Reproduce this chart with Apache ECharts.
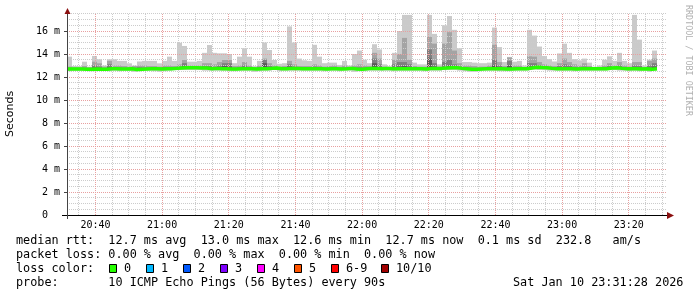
<!DOCTYPE html>
<html><head><meta charset="utf-8">
<script src="https://cdn.jsdelivr.net/npm/echarts@6/dist/echarts.min.js"></script>
<style>html,body{margin:0;padding:0;background:#fff}#c{width:697px;height:297px}</style>
</head><body><div id="c"></div>
<script>
// time in minutes since midnight
const startMin = 20*60 + 31 + 28/60;   // 20:31:28
const endMin = startMin + 180;          // 23:31:28
const stepMin = 1.5;                    // 90 s step
const yMax = 17.5;

// smoke tops (ms) per 90 s column
const pingMax = [13.77,12.96,12.95,13.33,12.9,13.83,13.54,13.0,13.54,13.54,13.4,13.4,13.19,13.0,13.35,13.4,13.4,13.4,13.19,13.4,
13.77,13.4,14.98,14.7,13.33,13.33,13.4,14.1,14.78,14.1,14.06,14.06,14.0,13.2,13.77,14.5,13.77,12.95,13.4,15.0,
14.35,13.48,13.15,13.2,16.4,15.0,13.6,13.45,13.4,14.8,13.77,13.2,13.25,13.25,13.05,13.4,13.0,14.0,14.3,13.5,
13.2,14.85,14.4,13.1,12.95,14.1,16.0,17.4,17.4,13.25,13.1,13.1,17.4,15.75,13.1,16.5,17.3,16.1,14.5,13.3,
13.3,13.25,13.2,13.2,13.25,16.3,14.6,13.3,13.75,13.33,13.4,13.0,16.1,15.6,14.65,13.83,13.55,13.35,14.05,14.9,
14.1,13.55,13.45,13.6,13.25,12.9,13.0,13.5,13.8,13.4,14.1,13.4,13.2,17.4,15.25,13.0,13.5,14.3];
const ping9 = [12.9,12.85,12.85,12.95,12.85,13.33,13.19,12.9,13.4,13.0,13.0,12.95,12.9,12.95,13.0,13.0,12.95,12.95,12.9,13.0,
13.0,12.95,13.1,13.48,13.0,13.0,13.0,13.2,13.2,13.1,13.3,13.48,13.48,12.95,13.0,13.3,13.0,12.85,13.0,13.6,
13.2,13.0,12.9,12.95,13.4,13.1,12.95,12.95,12.95,13.1,13.0,12.9,12.95,13.0,12.9,13.0,12.9,13.0,13.1,13.0,
12.95,14.1,13.6,12.9,12.85,13.5,14.0,15.4,13.5,12.95,12.9,12.9,15.5,14.9,12.9,14.9,15.9,14.3,13.2,13.0,
13.0,12.95,12.9,12.9,13.0,14.8,13.3,12.95,13.7,13.0,13.0,12.85,13.8,13.77,13.3,13.1,13.0,12.95,13.2,13.6,
13.3,13.1,13.0,13.2,12.95,12.85,12.85,13.0,13.2,13.0,13.3,13.0,12.9,13.3,13.3,12.85,13.4,13.6];
const ping8 = [12.8,12.78,12.78,12.8,12.78,13.0,12.9,12.78,13.1,12.85,12.82,12.8,12.8,12.8,12.85,12.82,12.8,12.8,12.8,12.85,
12.85,12.82,12.9,13.2,12.88,12.88,12.85,12.95,12.95,12.88,13.0,13.2,13.2,12.8,12.85,13.0,12.85,12.78,12.85,13.48,
12.95,12.85,12.8,12.8,13.1,12.9,12.8,12.8,12.8,12.9,12.85,12.78,12.8,12.82,12.78,12.82,12.82,12.8,12.85,12.82,
12.85,13.6,13.1,12.82,12.78,13.1,13.3,13.3,13.1,12.8,12.8,12.78,14.4,13.2,12.82,13.3,13.5,13.1,12.9,12.8,
12.78,12.78,12.78,12.8,12.82,13.5,13.0,12.8,13.4,12.82,12.82,12.8,13.2,13.2,13.0,12.9,12.85,12.8,12.95,13.1,
13.0,12.85,12.82,12.9,12.8,12.8,12.8,12.85,12.95,12.85,13.0,12.82,12.8,13.0,12.95,12.8,13.0,13.2];
const ping7 = [12.7,12.7,12.7,12.68,12.68,12.8,12.75,12.68,12.85,12.72,12.7,12.7,12.72,12.66,12.68,12.7,12.72,12.72,12.7,12.72,
12.72,12.75,12.78,12.95,12.8,12.8,12.78,12.78,12.72,12.75,12.8,12.95,12.9,12.7,12.72,12.8,12.72,12.7,12.72,13.2,
12.8,12.78,12.72,12.72,12.9,12.8,12.72,12.72,12.72,12.75,12.72,12.7,12.72,12.72,12.7,12.72,12.75,12.7,12.72,12.72,
12.75,13.2,12.85,12.75,12.72,12.85,12.9,12.95,12.85,12.72,12.72,12.7,13.6,12.9,12.75,12.85,13.0,12.85,12.75,12.72,
12.68,12.68,12.7,12.72,12.72,13.0,12.8,12.7,13.0,12.72,12.72,12.72,12.9,12.95,12.85,12.8,12.75,12.72,12.75,12.85,
12.78,12.7,12.72,12.75,12.72,12.72,12.72,12.72,12.8,12.8,12.8,12.72,12.72,12.8,12.75,12.72,12.8,12.9];
// smoke bottoms (ms)
const pingLow = [12.5,12.55,12.55,12.55,12.5,12.5,12.55,12.55,12.5,12.55,12.5,12.55,12.55,12.45,12.5,12.55,12.55,12.5,12.45,12.5,
12.55,12.6,12.6,12.6,12.6,12.6,12.6,12.55,12.55,12.55,12.55,12.55,12.5,12.5,12.55,12.55,12.55,12.45,12.5,12.55,
12.55,12.6,12.5,12.55,12.55,12.55,12.55,12.55,12.55,12.55,12.55,12.5,12.55,12.55,12.5,12.55,12.55,12.45,12.5,12.5,
12.55,12.55,12.55,12.55,12.55,12.5,12.55,12.55,12.55,12.55,12.55,12.5,12.55,12.55,12.55,12.6,12.6,12.6,12.55,12.5,
12.45,12.45,12.5,12.55,12.55,12.55,12.5,12.5,12.5,12.55,12.55,12.55,12.6,12.65,12.62,12.6,12.55,12.55,12.55,12.55,
12.55,12.5,12.55,12.55,12.55,12.55,12.55,12.55,12.6,12.6,12.55,12.55,12.5,12.55,12.5,12.55,12.45,12.55];
// median rtt (ms)
const median = [12.7,12.7,12.7,12.68,12.68,12.7,12.68,12.68,12.72,12.72,12.7,12.7,12.72,12.66,12.68,12.7,12.72,12.72,12.7,12.72,
12.72,12.75,12.78,12.8,12.8,12.8,12.78,12.78,12.72,12.75,12.72,12.72,12.7,12.7,12.72,12.72,12.72,12.7,12.72,12.72,
12.75,12.78,12.72,12.72,12.75,12.75,12.72,12.72,12.72,12.72,12.72,12.7,12.72,12.72,12.7,12.72,12.75,12.7,12.68,12.72,
12.75,12.75,12.72,12.75,12.72,12.72,12.72,12.72,12.72,12.72,12.72,12.7,12.75,12.75,12.75,12.78,12.8,12.8,12.75,12.72,
12.68,12.68,12.7,12.72,12.72,12.72,12.72,12.7,12.7,12.72,12.72,12.72,12.78,12.85,12.82,12.8,12.75,12.72,12.72,12.72,
12.72,12.7,12.72,12.72,12.72,12.72,12.72,12.72,12.78,12.8,12.75,12.72,12.72,12.72,12.7,12.72,12.68,12.72];

const yMajorTicks = [0,2,4,6,8,10,12,14,16];
const yMinorTicks = [0.5,1,1.5,2.5,3,3.5,4.5,5,5.5,6.5,7,7.5,8.5,9,9.5,10.5,11,11.5,12.5,13,13.5,14.5,15,15.5,16.5,17,17.5];
const xMajorLabels = ['20:40','21:00','21:20','21:40','22:00','22:20','22:40','23:00','23:20'];
const xMinorLabels = ['20:35','20:45','20:50','20:55','21:05','21:10','21:15','21:25','21:30','21:35','21:45','21:50','21:55',
 '22:05','22:10','22:15','22:25','22:30','22:35','22:45','22:50','22:55','23:05','23:10','23:15','23:25','23:30'];
const lossLegend = [['0','#26ff00'],['1','#00b8ff'],['2','#0059ff'],['3','#7e00ff'],['4','#ff00ff'],['5','#ff5500'],['6-9','#ff0000'],['10/10','#a10000']];
const statLine1 = 'median rtt:  12.7 ms avg  13.0 ms max  12.6 ms min  12.7 ms now  0.1 ms sd  232.8   am/s';
const statLine2 = 'packet loss: 0.00 % avg  0.00 % max  0.00 % min  0.00 % now';
const probeLine = 'probe:       10 ICMP Echo Pings (56 Bytes) every 90s';
const dateText = 'Sat Jan 10 23:31:28 2026';

const toMin = s => { const [h,m] = s.split(':').map(Number); return h*60+m; };
const fmt = v => { const h = Math.floor(v/60), m = Math.round(v%60); return String(h).padStart(2,'0')+':'+String(m).padStart(2,'0'); };

const layerColors = ['#cacaca','#a4a4a4','#7e7e7e','#585858'];
const smokeData = [];
const layers = [pingMax, ping9, ping8, ping7];
layers.forEach((arr, li) => {
  arr.forEach((top, k) => {
    const bottom = li === 0 ? pingLow[k] : median[k];
    if (top > bottom) smokeData.push([startMin + k*stepMin, startMin + (k+1)*stepMin, bottom, top, li]);
  });
});
const medData = median.map((m,k) => [startMin + k*stepMin, m]);
medData.push([startMin + median.length*stepMin, median[median.length-1]]);

// grid lines: [xValue, yValue, orientation(0=vertical,1=horizontal), major(0/1)]
const gridData = [];
xMinorLabels.forEach(s => gridData.push([toMin(s), 0, 0, 0]));
yMinorTicks.forEach(v => gridData.push([startMin, v, 1, 0]));
xMajorLabels.forEach(s => gridData.push([toMin(s), 0, 0, 1]));
yMajorTicks.filter(v => v > 0).forEach(v => gridData.push([startMin, v, 1, 1]));

const MONO = '"DejaVu Sans Mono"';
const chart = echarts.init(document.getElementById('c'), null, {renderer:'canvas'});

const graphics = [];
const textStyle = (t, x, y, extra) => Object.assign({type:'text', x, y, style:{text:t, font:'11.8px '+MONO, fill:'#000', verticalAlign:'middle'}}, extra||{});
graphics.push(textStyle(statLine1, 16, 241));
graphics.push(textStyle(statLine2, 16, 255));
graphics.push(textStyle('loss color:', 16, 269));
const sqX = [109,146,183,220,257,294,331,381];
lossLegend.forEach(([lab,col], i) => {
  graphics.push({type:'rect', shape:{x:sqX[i]+0.5, y:264.5, width:7, height:8}, style:{fill:col, stroke:'#000', lineWidth:1}});
  graphics.push(textStyle(lab, sqX[i]+15, 269));
});
graphics.push(textStyle(probeLine, 16, 283));
graphics.push(textStyle(dateText, 513, 283));
graphics.push({type:'text', x:684, y:5, rotation:-Math.PI/2, style:{text:'RRDTOOL / TOBI OETIKER', font:'8.4px '+MONO, fill:'#b0b0b0', verticalAlign:'bottom', align:'left'}});
graphics.push({type:'text', x:5, y:114, rotation:Math.PI/2, style:{text:'Seconds', font:'11px "DejaVu Sans"', fill:'#000', align:'center', verticalAlign:'top'}});
graphics.push({type:'line', shape:{x1:62, y1:215.5, x2:668, y2:215.5}, style:{stroke:'#000', lineWidth:1}, z:50});
graphics.push({type:'line', shape:{x1:67.5, y1:219, x2:67.5, y2:12}, style:{stroke:'#444', lineWidth:1}, z:50});
graphics.push({type:'polygon', shape:{points:[[667,212],[674,215.5],[667,219]]}, style:{fill:'#8b1010'}, z:50});
graphics.push({type:'polygon', shape:{points:[[64.5,14],[67.5,8],[70.5,14]]}, style:{fill:'#8b1010'}, z:50});

chart.setOption({
  animation:false,
  backgroundColor:'#fff',
  grid:{left:67, right:30, top:13.75, bottom:82, containLabel:false, outerBoundsMode:'none'},
  xAxis:[
    {type:'value', min:startMin, max:endMin, position:'bottom',
     axisLine:{show:false}, splitLine:{show:false},
     axisTick:{show:false, customValues: xMajorLabels.map(toMin)},
     axisLabel:{customValues: xMajorLabels.map(toMin), formatter: v => fmt(v), margin:5,
       fontFamily:'DejaVu Sans Mono', fontSize:10, color:'#000'}}
  ],
  yAxis:[
    {type:'value', min:0, max:yMax, position:'left',
     axisLine:{show:false}, splitLine:{show:false},
     axisTick:{show:true, inside:false, length:3, customValues: yMajorTicks, lineStyle:{color:'#444'}},
     axisLabel:{customValues: yMajorTicks, formatter: v => v === 0 ? '0  ' : v + ' m', margin:7,
       fontFamily:'DejaVu Sans Mono', fontSize:10, color:'#000'}}
  ],
  graphic: graphics,
  series:[
    {type:'custom', z:3, data:smokeData, silent:true,
     renderItem:(params, api) => {
       const p0 = api.coord([api.value(0), api.value(3)]);
       const p1 = api.coord([api.value(1), api.value(2)]);
       return {type:'rect', shape:{x:p0[0], y:p0[1], width:p1[0]-p0[0], height:p1[1]-p0[1]},
               style:{fill: layerColors[api.value(4)]}};
     }},
    {type:'custom', z:4, data:gridData, silent:true,
     renderItem:(params, api) => {
       const vertical = api.value(2) === 0;
       const color = api.value(3) ? '#e8a0a0' : '#cccccc';
       let shape;
       if (vertical) {
         const x = Math.floor(api.coord([api.value(0), 0])[0]) + 0.5;
         shape = {x1:x, y1:api.coord([startMin, 0])[1], x2:x, y2:api.coord([startMin, yMax])[1]};
       } else {
         const y = Math.floor(api.coord([startMin, api.value(1)])[1]) + 0.5;
         shape = {x1:api.coord([startMin, 0])[0], y1:y, x2:api.coord([endMin, 0])[0], y2:y};
       }
       return {type:'line', shape, style:{stroke:color, lineWidth:1, lineDash:[1,1]}};
     }},
    {type:'line', z:5, step:'end', showSymbol:false, symbol:'none',
     data:medData, lineStyle:{color:'#26ff00', width:3.5}}
  ]
});
</script></body></html>
